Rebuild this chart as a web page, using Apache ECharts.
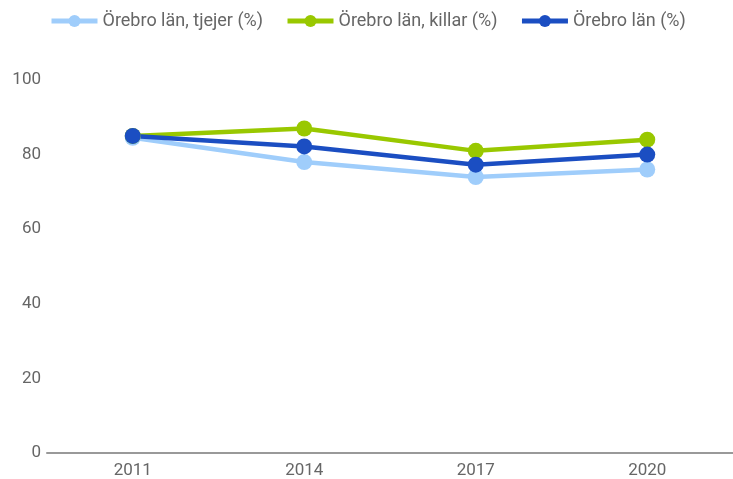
<!DOCTYPE html>
<html>
<head>
<meta charset="utf-8">
<script src="https://cdn.jsdelivr.net/npm/echarts@6/dist/echarts.min.js"></script>
<style>
  html, body { margin: 0; padding: 0; background: #fff; }
  #chart { width: 733px; height: 479px; }
</style>
</head>
<body>
<div id="chart"></div>
<script>
// år
var years = ["2011", "2014", "2017", "2020"];
var tjejer = [84.5, 78, 74, 76];
var killar = [85, 87, 81, 84];
var totalt = [85, 82.2, 77.3, 80];

var yTicks = { min: 0, max: 100, interval: 20 };

var myChart = echarts.init(document.getElementById("chart"));

function lineSeries(name, data, color) {
  return {
    name: name,
    type: "line",
    data: data,
    symbol: "circle",
    symbolSize: 16,
    lineStyle: { width: 4.5, color: color },
    itemStyle: { color: color },
  };
}

var option = {
  animation: false,
  textStyle: { fontFamily: "Roboto" },
  legend: {
    top: 7,
    left: 44,
    itemWidth: 46,
    itemHeight: 15,
    itemGap: 22,
    lineStyle: { width: 5 },
    textStyle: { fontSize: 18, color: "#666", fontFamily: "Roboto" },
  },
  grid: { left: 47, right: -4, top: 80, bottom: 26 },
  xAxis: {
    type: "category",
    data: years,
    axisTick: { show: false },
    axisLine: { lineStyle: { color: "#999", width: 2 } },
    axisLabel: { fontSize: 17, color: "#666", margin: 9 },
  },
  yAxis: {
    type: "value",
    min: yTicks.min,
    max: yTicks.max,
    interval: yTicks.interval,
    splitLine: { show: false },
    axisLine: { show: false },
    axisTick: { show: false },
    axisLabel: { fontSize: 17, color: "#666", margin: 6 },
  },
  series: [
    lineSeries("Örebro län, tjejer (%)", tjejer, "#9fcdfb"),
    lineSeries("Örebro län, killar (%)", killar, "#99c800"),
    lineSeries("Örebro län (%)", totalt, "#1b4ec2"),
  ],
};

myChart.setOption(option);
window.onresize = function () {
  myChart.resize();
};
</script>
</body>
</html>
